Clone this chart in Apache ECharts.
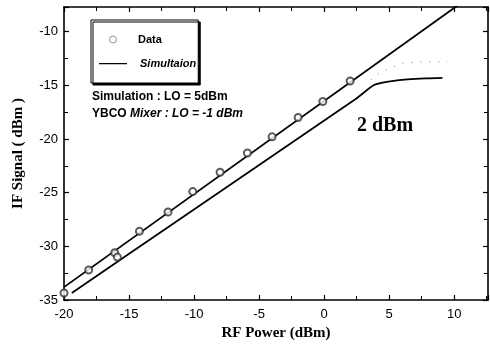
<!DOCTYPE html>
<html><head><meta charset="utf-8">
<script src="https://cdn.jsdelivr.net/npm/echarts@6/dist/echarts.min.js"></script>
<style>html,body{margin:0;padding:0;background:#fff}#c{width:490px;height:350px}</style>
</head><body><div id="c"></div>
<script>
// Measured data (RF power dBm, IF signal dBm)
var dataX = [-20, -18.1, -16.1, -15.9, -14.2, -12.0, -10.1, -8.0, -5.9, -4.0, -2.0, -0.1, 2.0];
var dataY = [-34.35, -32.2, -30.6, -31.0, -28.6, -26.8, -24.9, -23.1, -21.3, -19.8, -18.0, -16.5, -14.6];
// Simulation LO = 5 dBm (upper line)
var simX = [-20, 10.1, 11];
var simY = [-33.8, -7.7, -6.92];
// Simulation LO = 2 dBm (lower line with compression)
var sim2X = [-19.4, -11.5, 2.4, 3.8, 4.5, 5.2, 6.4, 7.8, 9.1];
var sim2Y = [-34.35, -27.8, -16.3, -15.0, -14.75, -14.6, -14.45, -14.35, -14.3];
// Faint dotted trace
var dotX = [3.6, 4.3, 6.1, 7.9, 9.5];
var dotY = [-14.5, -13.8, -12.9, -12.8, -12.8];

function pairs(xs, ys){ return xs.map(function(x,i){return [x, ys[i]];}); }

var chart = echarts.init(document.getElementById('c'), null, {renderer:'canvas'});
var axisLine = {show:true, onZero:false, lineStyle:{color:'#000', width:1.6}};
var tickCommon = {show:true, inside:true, length:5, lineStyle:{color:'#000', width:1.2}};
var minorCommon = {show:true, splitNumber:2, length:4, lineStyle:{color:'#000', width:1}};
var lbl = {color:'#000', fontFamily:'Liberation Sans', fontSize:13};
var nameStyle = {color:'#000', fontFamily:'Liberation Serif', fontWeight:'bold', fontSize:15};

chart.setOption({
  animation:false,
  backgroundColor:'#fff',
  grid:{left:64, right:2, top:7, bottom:50, show:false},
  legend:{
    orient:'vertical', left:91, top:20, width:116,
    data:[
      {name:'Data', icon:'circle', itemStyle:{color:'#fff', borderColor:'#777', borderWidth:1}},
      {name:'Simultaion', icon:'path://M0,0H0.01V8H0Z M0,3.4H32V4.8H0Z', itemStyle:{color:'#000', borderWidth:0}}
    ],
    itemWidth:32, itemHeight:7, itemGap:13, symbolKeepAspect:true,
    padding:[14, 2, 14, 8],
    backgroundColor:'#fff', borderColor:'#000', borderWidth:1,
    shadowColor:'#000', shadowOffsetX:2, shadowOffsetY:2, shadowBlur:0,
    formatter:function(n){ return n==='Simultaion' ? '{i|'+n+'}' : '{n|'+n+'}'; },
    textStyle:{color:'#000', fontSize:11, rich:{
      i:{fontStyle:'italic', fontWeight:'bold', fontFamily:'Liberation Sans', fontSize:11, color:'#000', padding:[0,0,0,6]},
      n:{fontWeight:'bold', fontFamily:'Liberation Sans', fontSize:11, color:'#000', padding:[0,0,0,4]}
    }}
  },
  xAxis:[{
    type:'value', min:-20, max:12.6, interval:5, position:'bottom',
    axisLine:axisLine, axisTick:tickCommon, minorTick:minorCommon, splitLine:{show:false},
    axisLabel:Object.assign({margin:8, showMaxLabel:false}, lbl),
    name:'RF Power (dBm)', nameLocation:'middle', nameGap:26, nameTextStyle:nameStyle
  },{
    type:'value', min:-20, max:12.6, interval:5, position:'top',
    axisLine:axisLine, axisTick:tickCommon, minorTick:minorCommon, splitLine:{show:false},
    axisLabel:{show:false}
  }],
  yAxis:[{
    type:'value', min:-35, max:-7.7, interval:5, position:'left',
    axisLine:axisLine, axisTick:tickCommon, minorTick:minorCommon, splitLine:{show:false},
    axisLabel:Object.assign({margin:6, showMaxLabel:false}, lbl),
    name:'IF Signal ( dBm )', nameLocation:'middle', nameGap:38, nameTextStyle:nameStyle
  },{
    type:'value', min:-35, max:-7.7, interval:5, position:'right',
    axisLine:axisLine, axisTick:tickCommon, minorTick:minorCommon, splitLine:{show:false},
    axisLabel:{show:false}
  }],
  series:[
    {name:'Simultaion', type:'line', data:pairs(simX, simY), showSymbol:false, symbol:'none',
     lineStyle:{color:'#000', width:1.8}, itemStyle:{color:'#000'}, clip:true, z:3},
    {name:'2 dBm', type:'line', data:pairs(sim2X, sim2Y), showSymbol:false, symbol:'none', smooth:0.25,
     lineStyle:{color:'#000', width:1.8}, clip:true, z:3},
    {name:'trace', type:'line', data:pairs(dotX, dotY), showSymbol:false, symbol:'none',
     lineStyle:{color:'#777', width:1, type:[1,8]}, clip:true, z:2},
    {name:'Data', type:'scatter', data:pairs(dataX, dataY), symbol:'emptyCircle', symbolSize:7,
     itemStyle:{color:'#333', borderColor:'#333', borderWidth:1.4}, z:4}
  ],
  graphic:[
    {type:'text', left:92, top:91, style:{
      text:'Simulation : LO = 5dBm', fill:'#000', font:'bold 12px "Liberation Sans"'}},
    {type:'text', left:92, top:108, style:{
      rich:{a:{font:'bold 12px "Liberation Sans"', fill:'#000'}, b:{font:'italic bold 12px "Liberation Sans"', fill:'#000'}},
      text:'{a|YBCO }{b|Mixer : LO = -1 dBm}'}},
    {type:'text', left:357, top:116, style:{
      text:'2 dBm', fill:'#000', font:'bold 20px "Liberation Serif"'}}
  ]
});
</script></body></html>
